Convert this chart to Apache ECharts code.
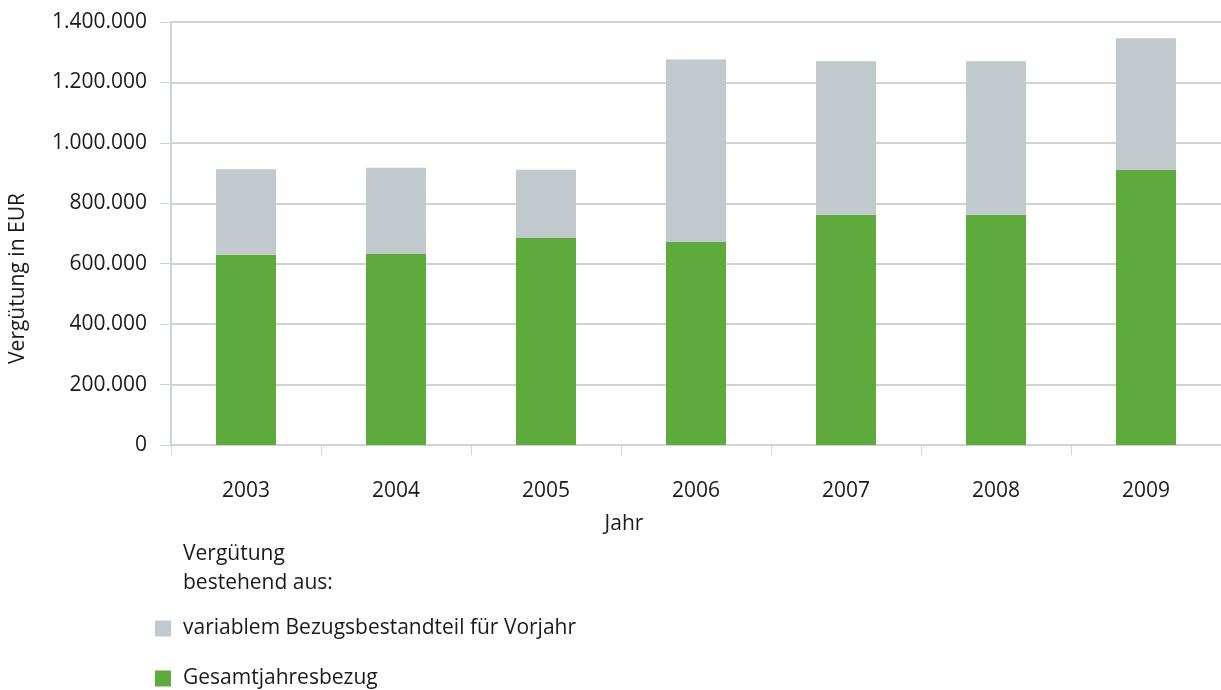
<!DOCTYPE html>
<html>
<head>
<meta charset="utf-8">
<script src="https://cdn.jsdelivr.net/npm/echarts@6/dist/echarts.min.js"></script>
<style>
  html, body { margin: 0; padding: 0; background: #fff; }
  #chart { width: 1221px; height: 690px; }
</style>
</head>
<body>
<div id="chart"></div>
<script>
var years = ['2003', '2004', '2005', '2006', '2007', '2008', '2009'];
// Gesamtjahresbezug (unterer, grüner Teil)
var gesamtjahresbezug = [630000, 632000, 685000, 672000, 762000, 762000, 910000];
// variabler Bezugsbestandteil für Vorjahr (oberer, grauer Teil)
var variablerBestandteil = [283000, 286000, 226000, 604000, 508000, 508000, 436000];
var legendNames = ['variablem Bezugsbestandteil für Vorjahr', 'Gesamtjahresbezug'];

var fontFam = '"Open Sans", "Noto Sans", sans-serif';
var lineColor = '#cdd3d6';
var txtColor = '#1a1a1a';

function legendItem(name, top) {
    return {
        orient: 'vertical',
        left: 155,
        top: top,
        padding: 0,
        itemWidth: 16,
        itemHeight: 16,
        icon: 'rect',
        data: [name],
        textStyle: { fontFamily: fontFam, fontSize: 21, color: txtColor, padding: [0, 0, 0, 7] }
    };
}

var myChart = echarts.init(document.getElementById('chart'));
var option = {
    animation: false,
    textStyle: { fontFamily: fontFam, color: txtColor },
    title: {
        text: 'Vergütung\nbestehend aus:',
        left: 178,
        top: 535,
        textStyle: {
            fontFamily: fontFam,
            fontSize: 21,
            fontWeight: 'normal',
            color: txtColor,
            lineHeight: 29
        }
    },
    legend: [
        legendItem(legendNames[0], 618),
        legendItem(legendNames[1], 668)
    ],
    grid: {
        left: 171,
        right: 0,
        top: 22,
        bottom: 245,
        outerBoundsMode: 'none'
    },
    xAxis: {
        type: 'category',
        data: years,
        name: 'Jahr',
        nameLocation: 'middle',
        nameGap: 69,
        nameTextStyle: { fontSize: 21, color: txtColor, padding: [0, 144, 0, 0] },
        axisLine: { show: true, lineStyle: { color: lineColor, width: 2 } },
        axisTick: { show: true, alignWithLabel: false, length: 10, lineStyle: { color: lineColor } },
        axisLabel: { fontSize: 21, color: txtColor, margin: 36 }
    },
    yAxis: {
        type: 'value',
        min: 0,
        max: 1400000,
        interval: 200000,
        name: 'Vergütung in EUR',
        nameLocation: 'middle',
        nameGap: 142,
        nameTextStyle: { fontSize: 21, color: txtColor, padding: [0, 90, 0, 0] },
        axisLine: { show: true, lineStyle: { color: lineColor, width: 2 } },
        axisTick: { show: true, length: 11, lineStyle: { color: lineColor } },
        axisLabel: {
            fontSize: 21,
            color: txtColor,
            margin: 24,
            formatter: function (v) {
                return String(v).replace(/\B(?=(\d{3})+(?!\d))/g, '.');
            }
        },
        splitLine: { show: true, lineStyle: { color: lineColor, width: 2 } }
    },
    series: [{
        name: 'Gesamtjahresbezug',
        type: 'bar',
        stack: 'total',
        barWidth: 60,
        data: gesamtjahresbezug,
        itemStyle: { color: '#5faa3c' }
    }, {
        name: 'variablem Bezugsbestandteil für Vorjahr',
        type: 'bar',
        stack: 'total',
        barWidth: 60,
        data: variablerBestandteil,
        itemStyle: { color: '#c2c9cc' }
    }]
};
myChart.setOption(option);
window.addEventListener('resize', function () {
    myChart.resize();
});
</script>
</body>
</html>
